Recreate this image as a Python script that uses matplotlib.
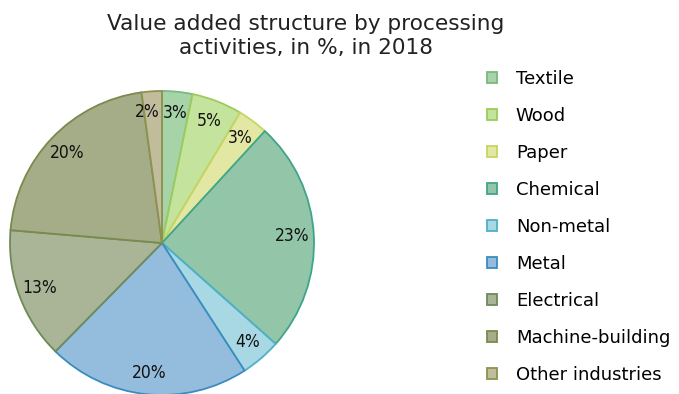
import numpy as np
import matplotlib.pyplot as plt

# Value added structure by processing activities, 2018 (labels as printed)
categories = ['Textile', 'Wood', 'Paper', 'Chemical', 'Non-metal', 'Metal',
              'Electrical', 'Machine-building', 'Other industries']
values = [3, 5, 3, 23, 4, 20, 13, 20, 2]

face_colors = ['#a6d4a8', '#c4e39c', '#e2e8a4', '#93c5a9', '#a8d8e4',
               '#94bcdc', '#a9b596', '#a4ac88', '#c0bc9c']
edge_colors = ['#7cb87f', '#9ccc5c', '#c8d464', '#3fa58a', '#4fb0c8',
               '#3a8cc0', '#6e8a58', '#7a8a4c', '#8c9250']

W, H = 679, 394
fig = plt.figure(figsize=(W / 100, H / 100), dpi=100)

# pie placed by pixel centre / radius
cx, cy, r = 162, 243, 152
ax = fig.add_axes([(cx - r) / W, (H - cy - r) / H, 2 * r / W, 2 * r / H])

total = sum(values)
wedges, texts, autotexts = ax.pie(
    values, startangle=90, counterclock=False, colors=face_colors,
    autopct=lambda p: f"{p * total / 100:.0f}%", pctdistance=0.86,
    wedgeprops=dict(linewidth=1.3),
    textprops=dict(fontsize=12.5, color='#111111', fontstretch='condensed'))
for w, ec in zip(wedges, edge_colors):
    w.set_edgecolor(ec)

# the tiny last slice: nudge its label left so it clears its neighbour
a = np.deg2rad(90 + 6.5)
autotexts[-1].set_position((0.87 * np.cos(a), 0.87 * np.sin(a)))

ax.set_xlim(-1, 1)
ax.set_ylim(-1, 1)
ax.set_aspect('equal')

fig.text(306 / W, 1 - 36 / H, "Value added structure by processing\nactivities, in %, in 2018",
         ha='center', va='center', fontsize=15.6, color='#222222', linespacing=1.3)

fig.legend(wedges, categories, loc='upper left',
           bbox_to_anchor=(487 / W, 1 - 70 / H), frameon=False, fontsize=13,
           handlelength=0.55, handleheight=0.55, handletextpad=1.05, labelspacing=1.05,
           borderaxespad=0, borderpad=0)

fig.savefig('out.png', dpi=100)
